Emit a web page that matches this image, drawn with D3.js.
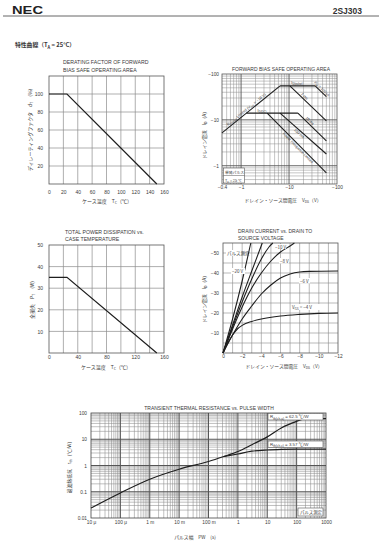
<!DOCTYPE html>
<html><head><meta charset="utf-8">
<script src="https://cdn.jsdelivr.net/npm/d3@7"></script>
<style>
body{margin:0;background:#fff}
svg{display:block}
</style>
</head><body>
<svg id="c" width="381" height="550"></svg>
<script>
// ---------------- DATA ----------------
// Derating factor of FBSOA
const derateTemp = [0, 25, 150];
const derateFactor = [100, 100, 0];
const derateXTicks = [0, 20, 40, 60, 80, 100, 120, 140, 160];
const derateYTicks = [20, 40, 60, 80, 100];
// Total power dissipation
const powerTemp = [0, 25, 150];
const powerDiss = [35, 35, 0];
const powerXTicks = [0, 40, 80, 120, 160];
const powerYTicks = [10, 20, 30, 40, 50];
// Forward bias SOA (|VDS| V, |ID| A)
const soaRonV = [0.4, 6.5],   soaRonI = [5.2, 55];
const soaPulseV = [6.5, 35],  soaPulseI = [55, 55];
const soaDcV = [1.29, 15.3],  soaDcI = [14, 14];
const soa100usV = [35, 60],   soa100usI = [55, 32];
const soa1msV = [10.4, 60],   soa1msI = [55, 9.5];
const soa10msV = [15.3, 60],  soa10msI = [14, 3.5];
const soa100msV = [6.5, 60],  soa100msI = [14, 1.8];
const soaPdV = [3.5, 60],     soaPdI = [14, 0.7];
const soaXTicks = [0.4, 1, 10, 100];
const soaYTicks = [1, 10, 100];
// Drain current vs drain-source voltage (|VDS|, |ID|)
const ivVgs20 = [[0,0],[1,17],[2,36],[2.9,55]];
const ivVgs15 = [[0,0],[1,14],[2,28],[3,41],[4.1,55]];
const ivVgs10 = [[0,0],[1,13],[2,25.5],[3,37],[4,47],[4.8,53],[5.2,55]];
const ivVgs8  = [[0,0],[1,12],[2,23],[3,32.5],[4,40],[5,46],[6,50.5],[7,53.5],[7.45,55]];
const ivVgs6  = [[0,0],[1,9],[2,17],[3,23.5],[4,29.5],[5,34],[6,37.5],[7,39.5],[8,40.5],[9,40.8],[12,41]];
const ivVgs4  = [[0,0],[0.5,5],[1,9],[1.5,12],[2,13.8],[3,15.8],[4,17],[6,18.5],[8,19.3],[10,19.8],[12,20]];
const ivXTicks = [0, 2, 4, 6, 8, 10, 12];
const ivYTicks = [10, 20, 30, 40, 50];
// Transient thermal resistance
const thPW   = [1e-5, 1e-4, 1e-3, 1e-2, 0.1, 0.33, 1, 3, 10, 30, 100, 180, 1000];
const thChA  = [0.024, 0.09, 0.3, 0.72, 1.42, 2.2, 3.4, 6.2, 12.3, 27, 48, 60, 61];
const thPWc  = [0.33, 1, 3, 10, 30, 100, 1000];
const thChC  = [2.2, 2.75, 3.5, 3.9, 4.1, 4.2, 4.2];
const thXTicks = [1e-5, 1e-4, 1e-3, 1e-2, 0.1, 1, 10, 100, 1000];
const thXLabels = ["10 μ", "100 μ", "1 m", "10 m", "100 m", "1", "10", "100", "1000"];
const thYTicks = [0.01, 0.1, 1, 10, 100];
const thYLabels = ["0.01", "0.1", "1", "10", "100"];

// ---------------- STYLE ----------------
const INK = "#1e1e1e", GRID = "#8c8c8c", GRIDM = "#555", TXT = "#3a3a3a";
const FONT = '"Liberation Sans","Noto Sans CJK JP",sans-serif';
const JP = '"Noto Sans CJK JP","Liberation Sans",sans-serif';
const svg = d3.select("#c");

function rich(g, x, y, parts, size, anchor, rot, family) {
  const t = g.append("text").attr("x", x).attr("y", y).attr("font-size", size)
    .attr("text-anchor", anchor || "start").attr("fill", TXT)
    .style("font-family", family || FONT);
  if (rot) t.attr("transform", `rotate(${rot},${x},${y})`);
  let sh = false;
  parts.forEach(p => {
    const s = t.append("tspan").text(p[0]);
    if (p[1] === "s") { s.attr("font-size", size * 0.72).attr("dy", size * 0.28); sh = true; }
    else if (sh) { s.attr("dy", -size * 0.28); sh = false; }
  });
  return t;
}
function logGrid(lo, hi) {
  const out = [];
  for (let e = Math.floor(Math.log10(lo)) ; e <= Math.ceil(Math.log10(hi)); e++)
    for (let k = 1; k < 10; k++) {
      const v = k * Math.pow(10, e);
      if (v > lo * 1.0001 && v < hi * 0.9999) out.push({ v, major: k === 1 });
    }
  return out;
}
function styleAxis(a, size) {
  a.select(".domain").remove();
  a.selectAll("text").attr("font-size", size).style("font-family", FONT).attr("fill", TXT);
}
function frame(g, x0, x1, y0, y1, c) {
  g.append("rect").attr("x", x0).attr("y", y1).attr("width", x1 - x0).attr("height", y0 - y1)
    .attr("fill", "none").attr("stroke", c || "#555").attr("stroke-width", 0.8);
}
function vline(g, vals, sc, y0, y1, stroke, w) {
  g.selectAll(null).data(vals).join("line")
    .attr("x1", d => sc(d)).attr("x2", d => sc(d)).attr("y1", y0).attr("y2", y1)
    .attr("stroke", stroke).attr("stroke-width", w);
}
function hline(g, vals, sc, x0, x1, stroke, w) {
  g.selectAll(null).data(vals).join("line")
    .attr("y1", d => sc(d)).attr("y2", d => sc(d)).attr("x1", x0).attr("x2", x1)
    .attr("stroke", stroke).attr("stroke-width", w);
}

// ---------------- HEADER ----------------
svg.append("text").attr("x", 12).attr("y", 14.3).attr("font-size", 10.5).attr("font-weight", "bold")
  .attr("textLength", 31).attr("lengthAdjust", "spacingAndGlyphs")
  .style("font-family", FONT).attr("fill", "#222").text("NEC");
svg.append("text").attr("x", 362).attr("y", 13.5).attr("font-size", 8.5).attr("font-weight", "bold")
  .attr("text-anchor", "end").style("font-family", FONT).attr("fill", "#333").text("2SJ303");
svg.append("line").attr("x1", 3).attr("x2", 379).attr("y1", 16).attr("y2", 16)
  .attr("stroke", "#666").attr("stroke-width", 1);
rich(svg, 15, 47, [["特性曲線（T"], ["A", "s"], [" = 25°C）"]], 5.8, "start", 0, JP).attr("font-weight", "bold");

// ---------------- CHART 1: derating ----------------
{
  const g = svg.append("g");
  const x = d3.scaleLinear([0, 160], [49, 164]);
  const y = d3.scaleLinear([0, 120], [184, 76]);
  vline(g, d3.range(20, 160, 20), x, y(0), y(120), GRID, 0.7);
  hline(g, d3.range(20, 120, 20), y, x(0), x(160), GRID, 0.7);
  frame(g, x(0), x(160), y(0), y(120));
  g.append("path").datum(derateTemp.map((t, i) => [t, derateFactor[i]]))
    .attr("d", d3.line().x(d => x(d[0])).y(d => y(d[1])))
    .attr("fill", "none").attr("stroke", INK).attr("stroke-width", 1.2);
  g.append("g").attr("transform", `translate(0,${y(0)})`)
    .call(d3.axisBottom(x).tickValues(derateXTicks).tickSize(0).tickPadding(6)).call(a => styleAxis(a, 5));
  g.append("g").attr("transform", `translate(${x(0)},0)`)
    .call(d3.axisLeft(y).tickValues(derateYTicks).tickSize(0).tickPadding(6)).call(a => styleAxis(a, 5));
  g.append("text").attr("x", 63).attr("y", 64).attr("font-size", 5.2).style("font-family", FONT).attr("fill", TXT)
    .text("DERATING FACTOR OF FORWARD");
  g.append("text").attr("x", 63).attr("y", 71.5).attr("font-size", 5.2).style("font-family", FONT).attr("fill", TXT)
    .text("BIAS SAFE OPERATING AREA");
  rich(g, 107, 203, [["ケース温度　T"], ["C", "s"], ["（℃）"]], 5, "middle", 0, JP);
  rich(g, 32, 130, [["ディレーティングファクタ　d"], ["T", "s"], ["　(%)"]], 5, "middle", -90, JP);
}

// ---------------- CHART 3: total power ----------------
{
  const g = svg.append("g");
  const x = d3.scaleLinear([0, 160], [49, 164]);
  const y = d3.scaleLinear([0, 50], [353, 245]);
  vline(g, d3.range(20, 160, 20), x, y(0), y(50), GRID, 0.7);
  hline(g, d3.range(10, 50, 10), y, x(0), x(160), GRID, 0.7);
  frame(g, x(0), x(160), y(0), y(50));
  g.append("path").datum(powerTemp.map((t, i) => [t, powerDiss[i]]))
    .attr("d", d3.line().x(d => x(d[0])).y(d => y(d[1])))
    .attr("fill", "none").attr("stroke", INK).attr("stroke-width", 1.2);
  g.append("g").attr("transform", `translate(0,${y(0)})`)
    .call(d3.axisBottom(x).tickValues(powerXTicks).tickSize(0).tickPadding(2.5)).call(a => styleAxis(a, 5));
  g.append("g").attr("transform", `translate(${x(0)},0)`)
    .call(d3.axisLeft(y).tickValues(powerYTicks).tickSize(0).tickPadding(6)).call(a => styleAxis(a, 5));
  g.append("text").attr("x", 65).attr("y", 234).attr("font-size", 5.2).style("font-family", FONT).attr("fill", TXT)
    .text("TOTAL POWER DISSIPATION vs.");
  g.append("text").attr("x", 65).attr("y", 241).attr("font-size", 5.2).style("font-family", FONT).attr("fill", TXT)
    .text("CASE TEMPERATURE");
  rich(g, 106, 369, [["ケース温度　T"], ["C", "s"], ["（℃）"]], 5, "middle", 0, JP);
  rich(g, 34, 300, [["全損失　P"], ["T", "s"], ["　(W)"]], 5, "middle", -90, JP);
}

// ---------------- CHART 2: FBSOA ----------------
{
  const g = svg.append("g");
  const x = d3.scaleLog([0.4, 100], [222, 337]);
  const y = d3.scaleLog([0.4, 100], [184, 74]);
  const gx = logGrid(0.4, 100), gy = logGrid(0.4, 100);
  vline(g, gx.filter(d => !d.major).map(d => d.v), x, y(0.4), y(100), GRID, 0.5);
  hline(g, gy.filter(d => !d.major).map(d => d.v), y, x(0.4), x(100), GRID, 0.5);
  vline(g, gx.filter(d => d.major).map(d => d.v), x, y(0.4), y(100), GRIDM, 0.9);
  hline(g, gy.filter(d => d.major).map(d => d.v), y, x(0.4), x(100), GRIDM, 0.9);
  frame(g, x(0.4), x(100), y(0.4), y(100));
  const segs = [
    [soaRonV, soaRonI], [soaPulseV, soaPulseI], [soaDcV, soaDcI],
    [soa100usV, soa100usI], [soa1msV, soa1msI], [soa10msV, soa10msI],
    [soa100msV, soa100msI], [soaPdV, soaPdI]
  ];
  const ln = d3.line().x(d => x(d[0])).y(d => y(d[1]));
  segs.forEach(s => {
    g.append("path").datum(s[0].map((v, i) => [v, s[1][i]])).attr("d", ln)
      .attr("fill", "none").attr("stroke", INK).attr("stroke-width", 1.1);
  });
  function along(V, I, t, off, parts, size) {
    const x0 = x(V[0]), y0 = y(I[0]), x1 = x(V[1]), y1 = y(I[1]);
    const ang = Math.atan2(y1 - y0, x1 - x0);
    const px = x0 + (x1 - x0) * t + Math.sin(ang) * off;
    const py = y0 + (y1 - y0) * t - Math.cos(ang) * off;
    rich(g, px, py, parts, size, "middle", ang * 180 / Math.PI);
  }
  along(soaRonV, soaRonI, 0.45, 1.6, [["R"], ["DS(on)", "s"], [" Limited (V"], ["GS", "s"], [" = −10 V)"]], 3.8);
  along(soa100usV, soa100usI, 0.45, 1.5, [["P"], ["W", "s"], [" = 100 μs"]], 3.6);
  along(soa1msV, soa1msI, 0.35, 1.5, [["1 ms"]], 3.8);
  along(soa10msV, soa10msI, 0.35, 1.5, [["10 ms"]], 3.8);
  along(soa100msV, soa100msI, 0.45, -3.8, [["100 ms"]], 3.8);
  along(soaPdV, soaPdI, 0.55, -3.8, [["Power Dissipation Limited"]], 3.6);
  rich(g, 297, 84, [["I"], ["D(pulse)", "s"]], 3.8, "middle");
  rich(g, 262, 112, [["I"], ["D(DC)", "s"]], 3.8, "middle");
  g.append("rect").attr("x", 223.5).attr("y", 168).attr("width", 21).attr("height", 15)
    .attr("fill", "#fff").attr("stroke", "#555").attr("stroke-width", 0.6);
  g.append("line").attr("x1", 223.5).attr("x2", 244.5).attr("y1", 175.5).attr("y2", 175.5)
    .attr("stroke", "#555").attr("stroke-width", 0.5);
  rich(g, 225, 174, [["単発パルス"]], 3.8, "start", 0, JP);
  rich(g, 225, 181.5, [["T"], ["C", "s"], [" = 25 ℃"]], 3.8, "start", 0, JP);
  g.append("g").attr("transform", `translate(0,${y(0.4)})`)
    .call(d3.axisBottom(x).tickValues(soaXTicks).tickSize(0).tickPadding(2).tickFormat(d => "−" + d))
    .call(a => styleAxis(a, 4.8));
  g.append("g").attr("transform", `translate(${x(0.4)},0)`)
    .call(d3.axisLeft(y).tickValues(soaYTicks).tickSize(0).tickPadding(3).tickFormat(d => "−" + d))
    .call(a => styleAxis(a, 4.8));
  g.append("text").attr("x", 281).attr("y", 71).attr("font-size", 5).attr("text-anchor", "middle")
    .style("font-family", FONT).attr("fill", TXT).text("FORWARD BIAS SAFE OPERATING AREA");
  rich(g, 283, 202, [["ドレイン・ソース間電圧　V"], ["DS", "s"], ["（V）"]], 4.8, "middle", 0, JP);
  rich(g, 206, 134, [["ドレイン電流　I"], ["D", "s"], ["（A）"]], 4.8, "middle", -90, JP);
}

// ---------------- CHART 4: ID vs VDS ----------------
{
  const g = svg.append("g");
  const x = d3.scaleLinear([0, 12], [223, 338]);
  const y = d3.scaleLinear([0, 55], [353, 243]);
  vline(g, d3.range(1, 12, 1), x, y(0), y(55), GRID, 0.6);
  hline(g, d3.range(5, 55, 5), y, x(0), x(12), GRID, 0.6);
  frame(g, x(0), x(12), y(0), y(55));
  const ln = d3.line().x(d => x(d[0])).y(d => y(d[1])).curve(d3.curveMonotoneX);
  [ivVgs20, ivVgs15, ivVgs10, ivVgs8, ivVgs6, ivVgs4].forEach(c => {
    g.append("path").datum(c).attr("d", ln).attr("fill", "none").attr("stroke", INK).attr("stroke-width", 1.1);
  });
  g.append("g").attr("transform", `translate(0,${y(0)})`)
    .call(d3.axisBottom(x).tickValues(ivXTicks).tickSize(0).tickPadding(2).tickFormat(d => d === 0 ? "0" : "−" + d))
    .call(a => styleAxis(a, 4.8));
  g.append("g").attr("transform", `translate(${x(0)},0)`)
    .call(d3.axisLeft(y).tickValues(ivYTicks).tickSize(0).tickPadding(4).tickFormat(d => "−" + d))
    .call(a => styleAxis(a, 4.8));
  const lab = (px, py, parts) => {
    const t = rich(g, px, py, parts, 4.5, "start", 0, JP);
  };
  g.append("rect").attr("x", 226).attr("y", 250).attr("width", 15).attr("height", 6).attr("fill", "#fff");
  lab(227, 255, [["パルス測定"]]);
  g.append("rect").attr("x", 231).attr("y", 268).attr("width", 14).attr("height", 6).attr("fill", "#fff");
  lab(232, 273, [["−20 V"]]);
  g.append("rect").attr("x", 274).attr("y", 244).attr("width", 12).attr("height", 5).attr("fill", "#fff");
  lab(275, 248.5, [["−10 V"]]);
  g.append("rect").attr("x", 279).attr("y", 258).attr("width", 10).attr("height", 5.5).attr("fill", "#fff");
  lab(280, 262.5, [["−8 V"]]);
  g.append("rect").attr("x", 299).attr("y", 278).attr("width", 11).attr("height", 5.5).attr("fill", "#fff");
  lab(300, 282.5, [["−6 V"]]);
  g.append("rect").attr("x", 291).attr("y", 304).attr("width", 33).attr("height", 6).attr("fill", "#fff");
  lab(292, 309, [["V"], ["GS", "s"], [" = −4 V"]]);
  g.append("text").attr("x", 238).attr("y", 233).attr("font-size", 5).style("font-family", FONT).attr("fill", TXT)
    .text("DRAIN CURRENT vs. DRAIN TO");
  g.append("text").attr("x", 238).attr("y", 240).attr("font-size", 5).style("font-family", FONT).attr("fill", TXT)
    .text("SOURCE VOLTAGE");
  rich(g, 284, 368, [["ドレイン・ソース間電圧　V"], ["DS", "s"], ["（V）"]], 4.8, "middle", 0, JP);
  rich(g, 206, 298, [["ドレイン電流　I"], ["D", "s"], ["（A）"]], 4.8, "middle", -90, JP);
}

// ---------------- CHART 5: transient thermal ----------------
{
  const g = svg.append("g");
  const x = d3.scaleLog([1e-5, 1e3], [91, 326]);
  const y = d3.scaleLog([0.01, 100], [518, 413]);
  const gx = logGrid(1e-5, 1e3), gy = logGrid(0.01, 100);
  vline(g, gx.filter(d => !d.major).map(d => d.v), x, y(0.01), y(100), GRID, 0.55);
  hline(g, gy.filter(d => !d.major).map(d => d.v), y, x(1e-5), x(1e3), GRID, 0.55);
  vline(g, gx.filter(d => d.major).map(d => d.v), x, y(0.01), y(100), GRIDM, 1);
  hline(g, gy.filter(d => d.major).map(d => d.v), y, x(1e-5), x(1e3), GRIDM, 1);
  frame(g, x(1e-5), x(1e3), y(0.01), y(100), "#444");
  const ln = d3.line().x(d => x(d[0])).y(d => y(d[1])).curve(d3.curveMonotoneX);
  g.append("path").datum(thPW.map((t, i) => [t, thChA[i]])).attr("d", ln)
    .attr("fill", "none").attr("stroke", INK).attr("stroke-width", 1.2);
  g.append("path").datum(thPWc.map((t, i) => [t, thChC[i]])).attr("d", ln)
    .attr("fill", "none").attr("stroke", INK).attr("stroke-width", 1.2);
  const box = (bx, by, bw, bh, parts, fam) => {
    g.append("rect").attr("x", bx).attr("y", by).attr("width", bw).attr("height", bh)
      .attr("fill", "#fff").attr("stroke", "#555").attr("stroke-width", 0.6);
    rich(g, bx + 2, by + bh - 1.6, parts, 4.4, "start", 0, fam);
  };
  box(268, 413.5, 55, 6.5, [["R"], ["th(ch-a)", "s"], [" = 62.5 ℃/W"]]);
  box(268, 441, 55, 6.5, [["R"], ["th(ch-c)", "s"], [" = 3.57 ℃/W"]]);
  box(298, 508, 25, 8, [["パルス測定"]], JP);
  g.append("g").attr("transform", `translate(0,${y(0.01)})`)
    .call(d3.axisBottom(x).tickValues(thXTicks).tickSize(0).tickPadding(3).tickFormat((d, i) => thXLabels[i]))
    .call(a => styleAxis(a, 4.8));
  g.append("g").attr("transform", `translate(${x(1e-5)},0)`)
    .call(d3.axisLeft(y).tickValues(thYTicks).tickSize(0).tickPadding(4).tickFormat((d, i) => thYLabels[i]))
    .call(a => styleAxis(a, 4.8));
  g.append("text").attr("x", 209).attr("y", 410).attr("font-size", 5).attr("text-anchor", "middle")
    .style("font-family", FONT).attr("fill", TXT).text("TRANSIENT THERMAL RESISTANCE vs. PULSE WIDTH");
  rich(g, 195, 539, [["パルス幅　PW　(s)"]], 4.8, "middle", 0, JP);
  rich(g, 71, 466, [["過渡熱抵抗　r"], ["th", "s"], ["（℃/W）"]], 4.8, "middle", -90, JP);
}
</script>
</body></html>
